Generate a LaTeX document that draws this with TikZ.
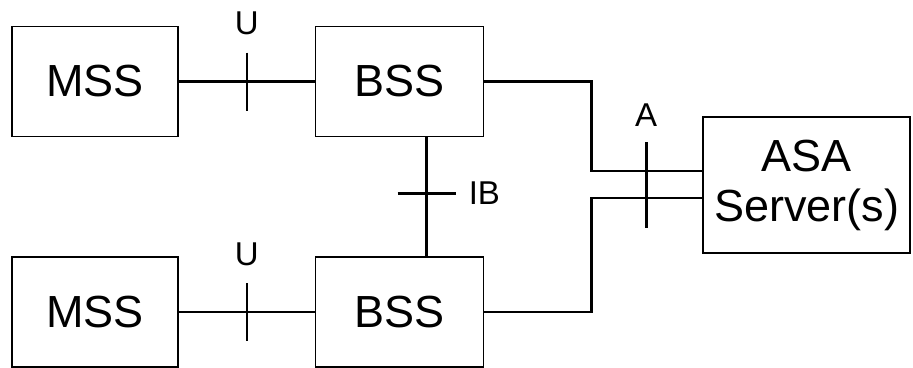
\documentclass[tikz,border=0pt]{standalone}
\usepackage{fontspec}
\setmainfont{Liberation Sans}
\usetikzlibrary{positioning,calc}
\tikzset{
  box/.style={draw, line width=1.6pt, minimum width=166pt, minimum height=110pt, inner sep=0pt, font=\fontsize{45}{50}\selectfont},
  link/.style={line width=2.6pt},
  lbl/.style={inner sep=0pt, font=\fontsize{33}{38}\selectfont},
}

\begin{document}
\begin{tikzpicture}[x=1pt,y=-1pt]
\useasboundingbox (0,0) rectangle (913,367);

\node[box] (mss1) at (95,81.5) {MSS};
\node[box, minimum width=168pt, right=136pt of mss1] (bss1) {BSS};
\node[box, below=119pt of mss1] (mss2) {MSS};
\node[box, minimum width=168pt, below=119pt of bss1] (bss2) {BSS};
\node[box, minimum width=207pt, minimum height=136pt, align=center] (asa) at (806.5,185) {ASA\\Server(s)};

\coordinate (u1) at ($(mss1.east)!0.5!(bss1.west)$);
\coordinate (u2) at ($(mss2.east)!0.5!(bss2.west)$);
\draw[link] (mss1.east) -- (bss1.west);
\draw[link] (mss2.east) -- (bss2.west);
\draw[link] ([yshift=29pt]u1) -- ([yshift=-29pt]u1);
\draw[link] ([yshift=29pt]u2) -- ([yshift=-29pt]u2);
\node[lbl, above=46pt of u1] (u1lbl) {U};
\node[lbl, above=46pt of u2] (u2lbl) {U};

\coordinate (ibtop) at ([xshift=27pt]bss1.south);
\coordinate (ibbot) at (ibtop |- bss2.north);
\coordinate (ib) at ($(ibtop)!0.47!(ibbot)$);
\draw[link] (ibtop) -- (ibbot);
\draw[link] ([xshift=-29pt]ib) -- ([xshift=29pt]ib);
\node[lbl, right=42pt of ib] (iblbl) {IB};

\coordinate (aup) at ($(asa.west)+(0,-14)$);
\coordinate (alow) at ($(asa.west)+(0,13)$);
\coordinate (a) at ($(asa.west)+(-56,0)$);
\draw[link] (bss1.east) -| ([xshift=-111pt]aup) -- (aup);
\draw[link] (bss2.east) -| ([xshift=-111pt]alow) -- (alow);
\draw[link] ([yshift=43pt]a) -- ([yshift=-43pt]a);
\node[lbl, above=58pt of a] (albl) {A};
\end{tikzpicture}
\end{document}
